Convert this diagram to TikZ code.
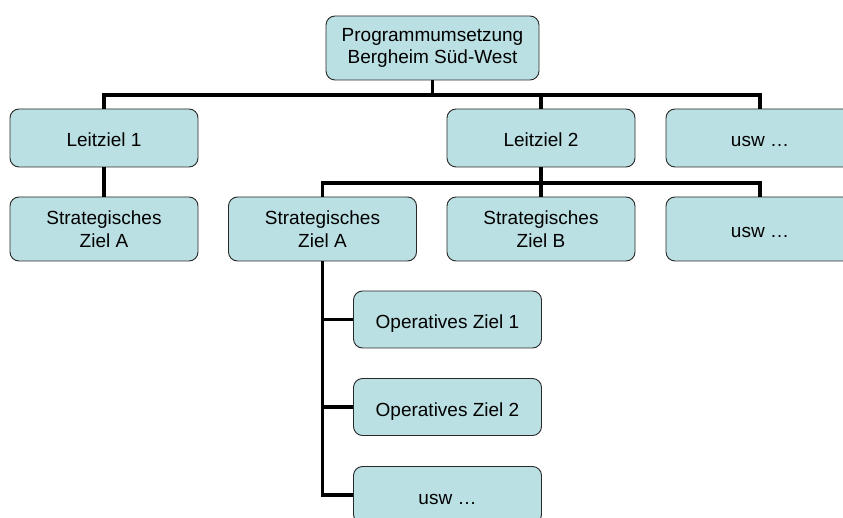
\documentclass[tikz,border=0pt]{standalone}
\usepackage{fontspec}
\setmainfont{Liberation Sans}
\definecolor{boxfill}{RGB}{187,224,227}
\definecolor{boxline}{RGB}{40,40,40}
\begin{document}
\begin{tikzpicture}[x=1pt,y=-1pt,
  box/.style={draw=boxline, line width=0.9pt, fill=boxfill, rounded corners=9pt,
    minimum width=188pt, minimum height=58pt, align=center, inner sep=0pt,
    font=\fontsize{19}{22.5}\selectfont},
  one/.style={text height=21pt, text depth=3pt},
  conn/.style={line width=3.6pt, black}]
\useasboundingbox (0,0) rectangle (843,518);
\clip (0,0) rectangle (843,518);
% nodes
\node[box, minimum width=213pt, minimum height=64pt] (top) at (432.5,48) {Programmumsetzung\\Bergheim Süd-West};
\node[box, one] (L1) at (104,138) {Leitziel 1};
\node[box, one] (L2) at (541,138) {Leitziel 2};
\node[box, one] (U1) at (760,138) {usw …};
\node[box, minimum height=64pt] (SA1) at (104,229) {Strategisches\\Ziel A};
\node[box, minimum height=64pt] (SA2) at (322.5,229) {Strategisches\\Ziel A};
\node[box, minimum height=64pt] (SB) at (541,229) {Strategisches\\Ziel B};
\node[box, one, minimum height=64pt] (U2) at (760,229) {usw …};
\node[box, one, minimum height=57pt] (O1) at (447.5,319.5) {Operatives Ziel 1};
\node[box, one, minimum height=57pt] (O2) at (447.5,407) {Operatives Ziel 2};
\node[box, one, minimum height=57pt] (O3) at (447.5,495) {usw …};
% connectors
\coordinate (b1) at (432.5,95);
\coordinate (b2) at (541,183);
\draw[conn] (top.south) -- (b1);
\draw[conn] (b1) -| (L1.north);
\draw[conn] (b1) -| (L2.north);
\draw[conn] (b1) -| (U1.north);
\draw[conn] (L1.south) -- (SA1.north);
\draw[conn] (L2.south) -- (b2);
\draw[conn] (b2) -| (SA2.north);
\draw[conn] (b2) -| (SB.north);
\draw[conn] (b2) -| (U2.north);
\draw[conn] (SA2.south) |- (O1.west);
\draw[conn] (SA2.south) |- (O2.west);
\draw[conn] (SA2.south) |- (O3.west);
\end{tikzpicture}
\end{document}
